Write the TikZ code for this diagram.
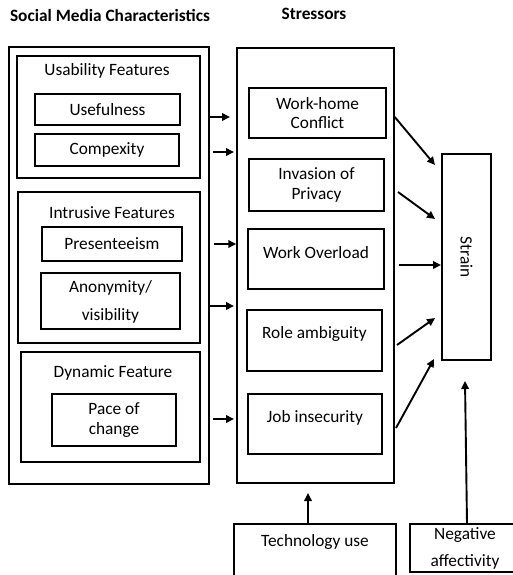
\documentclass[tikz,border=0pt]{standalone}
\usepackage{fontspec}
\setmainfont{Carlito}
\usetikzlibrary{arrows.meta}
\begin{document}
\begin{tikzpicture}[x=1pt,y=-1pt,
  box/.style={draw=black,line width=1.5pt,inner sep=0pt,minimum width=#1},
  txt/.style={font=\fontsize{17.3}{19.5}\selectfont,align=center,inner sep=0pt},
  ttl/.style={font=\fontsize{17.3}{19.5}\selectfont\bfseries,inner sep=0pt},
  arr/.style={line width=1.9pt,-{Triangle[length=8pt,width=7.5pt]}}]
\useasboundingbox (0,0) rectangle (513,575);
\begin{scope}
\clip (0,0) rectangle (513,575);
% titles
\node[ttl] (t1) at (110,15) {Social Media Characteristics};
\node[ttl] (t2) at (314,14) {Stressors};
% left column
\node[box=200pt,minimum height=437pt] (lft) at (109,265.5) {};
\node[box=183pt,minimum height=122pt] (usab) at (108.5,117) {};
\node[txt] (usabt) at (107,71) {Usability Features};
\node[box=145pt,minimum height=31pt,txt] (usef) at (107.5,109.5) {Usefulness};
\node[box=144pt,minimum height=32pt,txt] (comp) at (107,150) {Compexity};
\node[box=182pt,minimum height=151pt] (intr) at (109,267.5) {};
\node[txt] (intrt) at (112,213) {Intrusive Features};
\node[box=140pt,minimum height=34pt,txt] (pres) at (112,244) {Presenteeism};
\node[box=139pt,minimum height=56pt] (anon) at (110.5,301) {};
\node[txt] (anont1) at (110.5,288) {Anonymity/};
\node[txt] (anont2) at (110.5,316) {visibility};
\node[box=179pt,minimum height=110pt] (dyn) at (110.5,407) {};
\node[txt] (dynt) at (113,373) {Dynamic Feature};
\node[box=124pt,minimum height=52pt,txt] (pace) at (114,420) {Pace of\\change};
% stressors
\node[box=157pt,minimum height=435pt] (str) at (315.5,265.5) {};
\node[box=137pt,minimum height=50pt,txt] (wh) at (317.5,113) {Work-home\\Conflict};
\node[box=135pt,minimum height=52pt,txt] (inv) at (316.5,185) {Invasion of\\Privacy};
\node[box=136pt,minimum height=60pt] (wo) at (316,259) {};
\node[txt] (wot) at (316,253) {Work Overload};
\node[box=135pt,minimum height=61pt] (ra) at (314.5,340.5) {};
\node[txt] (rat) at (314.5,334) {Role ambiguity};
\node[box=134pt,minimum height=60pt] (ji) at (315,424) {};
\node[txt] (jit) at (315,418) {Job insecurity};
% strain
\node[box=49pt,minimum height=206pt] (strain) at (466.5,257) {};
\node[txt,rotate=-90] (straint) at (466.5,257) {Strain};
% bottom boxes
\node[box=162pt,minimum height=56pt] (tech) at (315,552) {};
\node[txt] (techt) at (315,542) {Technology use};
\node[box=106pt,minimum height=48pt] (neg) at (463,548) {};
\node[txt] (negt1) at (465,535) {Negative};
\node[txt] (negt2) at (465,562) {affectivity};
% arrows left -> stressors
\coordinate (a1) at (230,117);
\coordinate (a2) at (234,152);
\coordinate (a3) at (237,244);
\coordinate (a4) at (234,306);
\coordinate (a5) at (234,419);
\draw[arr] (lft.east |- a1) -- (a1);
\draw[arr] ([xshift=3pt]lft.east |- a2) -- (a2);
\draw[arr] ([xshift=4pt]lft.east |- a3) -- (str.west |- a3);
\draw[arr] (lft.east |- a4) -- (a4);
\draw[arr] ([xshift=3pt]lft.east |- a5) -- (a5);
% arrows to strain
\coordinate (s1) at (435,165);
\coordinate (s2) at (435,219);
\coordinate (s3) at (441,265);
\coordinate (s4) at (435,318);
\coordinate (s5) at (434,359);
\draw[arr] (str.east |- 0,117) -- (s1);
\draw[arr] (398,192) coordinate (b2) -- (s2);
\draw[arr] (399,265) coordinate (b3) -- (s3);
\draw[arr] (397,345) coordinate (b4) -- (s4);
\draw[arr] (396,428) coordinate (b5) -- (s5);
% bottom arrows
\coordinate (n1) at (465,381);
\draw[arr] ([xshift=4pt]neg.north) -- (n1);
\coordinate (tu) at (308,493);
\draw[arr] ([xshift=-7pt]tech.north) -- (tu);
\end{scope}
\end{tikzpicture}
\end{document}
